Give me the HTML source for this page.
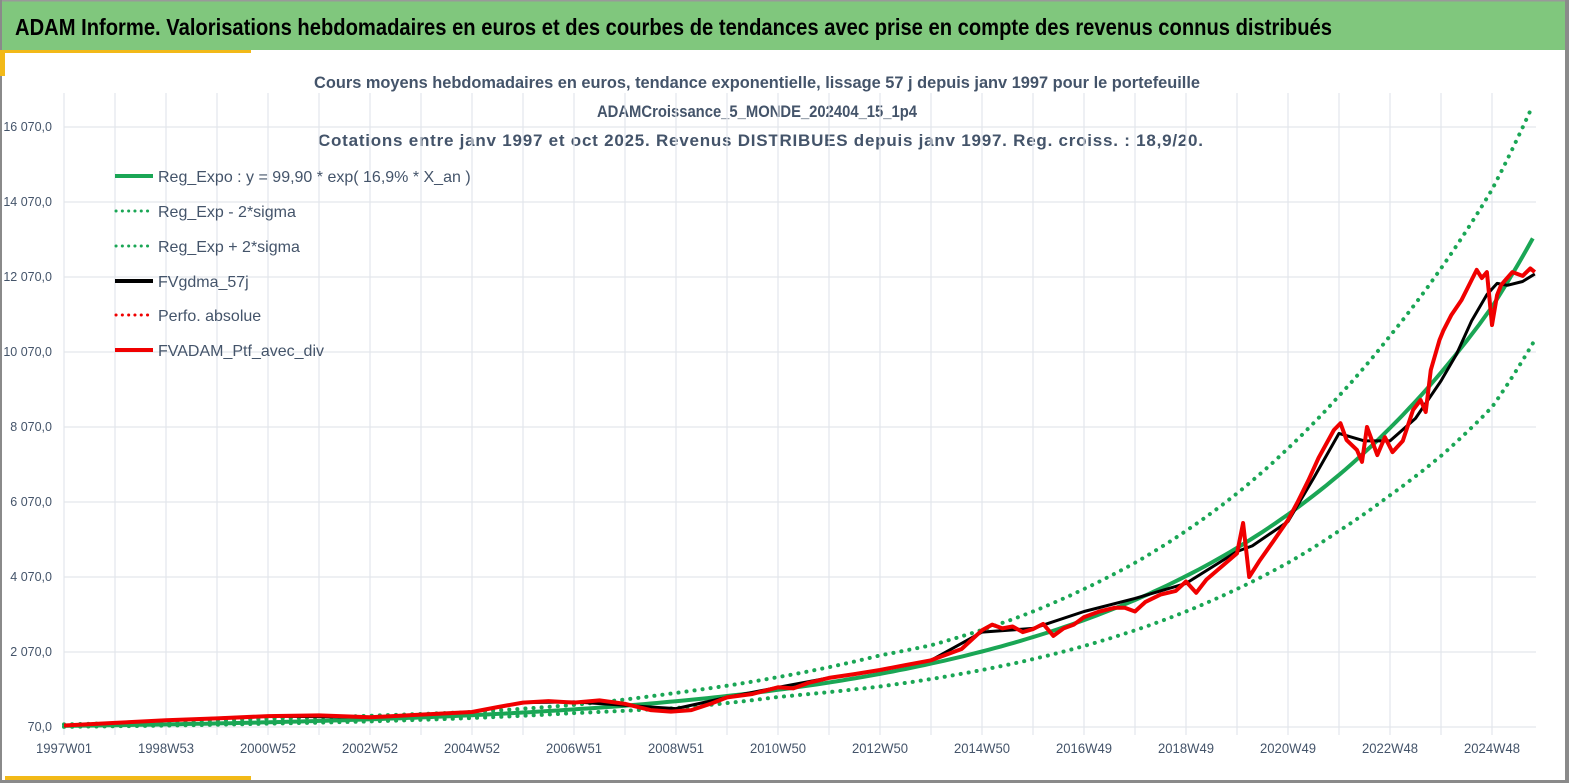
<!DOCTYPE html>
<html><head><meta charset="utf-8"><style>
html,body{margin:0;padding:0;background:#fff;}
svg{display:block;font-family:"Liberation Sans",sans-serif;}
</style></head><body>
<svg id="chart" width="1569" height="783" viewBox="0 0 1569 783">
<rect x="0" y="0" width="1569" height="783" fill="#fff"/>
<rect x="0" y="0" width="1566" height="50" fill="#80c77d"/>
<rect x="0" y="0" width="1569" height="1.5" fill="#999"/>
<rect x="1565" y="0" width="4" height="783" fill="#8a8a8a"/>
<rect x="0" y="780" width="1569" height="3" fill="#8a8a8a"/>
<rect x="0" y="0" width="2" height="783" fill="#8a8a8a"/>
<rect x="0" y="50" width="251" height="3" fill="#f2b918"/>
<rect x="0" y="50" width="5" height="26" fill="#f2b918"/>
<rect x="5" y="776" width="246" height="4" fill="#f2b918"/>
<text x="15" y="35" font-size="23" font-weight="bold" fill="#000" textLength="1317" lengthAdjust="spacingAndGlyphs">ADAM Informe. Valorisations hebdomadaires en euros et des courbes de tendances avec prise en compte des revenus connus distribués</text>
<g fill="#44546a" font-weight="bold" font-size="17">
<text x="314" y="88" textLength="886" lengthAdjust="spacingAndGlyphs">Cours moyens hebdomadaires  en euros, tendance exponentielle, lissage 57 j depuis janv 1997 pour le portefeuille</text>
<text x="597" y="117" textLength="320" lengthAdjust="spacingAndGlyphs">ADAMCroissance_5_MONDE_202404_15_1p4</text>
<text x="318" y="146" textLength="885" lengthAdjust="spacing">Cotations  entre janv 1997 et oct 2025. Revenus DISTRIBUES depuis janv 1997. Reg. croiss. : 18,9/20.</text>
</g>
<g id="grid"></g>
<g id="axes"></g>
<g id="series"></g>
<g id="legend"></g>
</svg>
<script>
// ---- data ----
const yTicks = [70, 2070, 4070, 6070, 8070, 10070, 12070, 14070, 16070];
const yTickLabels = ["70,0","2 070,0","4 070,0","6 070,0","8 070,0","10 070,0","12 070,0","14 070,0","16 070,0"];
const xTickYears = [0, 2, 4, 6, 8, 10, 12, 14, 16, 18, 20, 22, 24, 26, 28];
const xTickLabels = ["1997W01","1998W53","2000W52","2002W52","2004W52","2006W51","2008W51","2010W50","2012W50","2014W50","2016W49","2018W49","2020W49","2022W48","2024W48"];
const regYears = [0,1,2,3,4,5,6,7,8,9,10,11,12,13,14,15,16,17,18,19,20,21,22,23,24,25,26,27,28,28.8];
const regValues = [100,118,140,165,196,232,275,325,385,456,540,639,757,896,1061,1256,1487,1760,2084,2467,2921,3458,4094,4847,5738,6793,8043,9522,11273,13100];
const upperYears = [0,2,4,6,8,10,12,14,16,17,18,19,20,21,22,23,24,25,26,27,28,28.8];
const upperValues = [140,210,290,370,470,660,980,1400,1980,2250,2660,3150,3750,4450,5300,6300,7500,8900,10500,12300,14400,16650];
const lowerYears = [0,2,4,6,8,10,12,14,16,17,18,19,20,21,22,23,24,25,26,27,28,28.8];
const lowerValues = [75,110,160,220,310,440,575,870,1150,1350,1590,1880,2230,2650,3150,3750,4450,5300,6250,7300,8600,10300];
const ptfYears = [0,1,2,3,4,5,6,7,8,8.5,9,9.5,10,10.5,11,11.5,11.9,12.3,12.7,13,13.5,14,14.3,14.6,15,15.5,16,16.5,17,17.3,17.6,17.8,18,18.2,18.4,18.6,18.8,19,19.2,19.4,19.6,19.8,20,20.3,20.6,20.8,21,21.2,21.5,21.8,22,22.2,22.4,22.7,23,23.12,23.24,23.45,23.7,24,24.2,24.4,24.6,24.9,25.03,25.15,25.35,25.45,25.55,25.75,25.9,26.05,26.25,26.45,26.6,26.7,26.8,26.97,27.05,27.2,27.4,27.6,27.7,27.8,27.9,28.0,28.1,28.18,28.27,28.4,28.6,28.75,28.84];
const ptfValues = [110,180,250,300,360,380,330,400,470,600,720,760,720,780,690,520,480,520,700,860,950,1130,1100,1250,1380,1480,1590,1720,1850,2000,2150,2400,2650,2800,2700,2750,2600,2680,2820,2500,2700,2800,3000,3150,3250,3250,3150,3400,3600,3700,3950,3650,4000,4350,4700,5510,4070,4520,5000,5590,6100,6650,7250,7990,8170,7720,7460,7140,8070,7320,7800,7400,7700,8520,8790,8470,9590,10390,10650,11050,11450,11990,12260,12040,12200,10790,11590,11860,12000,12200,12100,12300,12200];
const maYears = [0,2,4,6,8,9,10,11,12,13,14,15,16,17,18,19,20,21,22,23,23.3,24,24.5,25,25.5,26,26.5,27,27.3,27.6,27.9,28.1,28.3,28.6,28.84];
const maValues = [110,250,360,330,470,720,740,650,560,860,1130,1380,1590,1850,2600,2700,3150,3500,3900,4750,4900,5550,6700,7900,7700,7700,8300,9300,10000,10900,11600,11900,11850,11950,12150];

// ---- axes ----
const X0 = 64, PX_PER_YEAR = 51;
const Y0 = 727, PX_PER_UNIT = 600/16000;
function xs(t){ return X0 + t*PX_PER_YEAR; }
function ys(v){ return Y0 - (v-70)*PX_PER_UNIT; }
const NS = "http://www.w3.org/2000/svg";
function mk(tag, parent, attrs){ const e=document.createElementNS(NS,tag); for(const k in attrs) e.setAttribute(k,attrs[k]); parent.appendChild(e); return e; }

const grid = document.getElementById('grid');
const axes = document.getElementById('axes');
for (let i=0;i<yTicks.length;i++){
  const y = ys(yTicks[i]);
  const l = mk('line', grid, {x1:64, x2:1536, y1:y, y2:y, stroke:'#e3e6ec', 'stroke-width':1.3});
  
  
  const t = mk('text', axes, {x:52, y:y+4, 'text-anchor':'end', 'font-size':12.5, fill:'#44546a'});
  t.textContent = yTickLabels[i];
  
  
}
for (let k=0;k<=29;k++){
  const x = xs(k);
  if (x>1537) break;
  const l = mk('line', grid, {x1:x, x2:x, y1:93, y2:735, stroke:'#e3e6ec', 'stroke-width':1.2});
  
  
}
for (let i=0;i<xTickYears.length;i++){
  const t = mk('text', axes, {x:xs(xTickYears[i]), y:753, 'text-anchor':'middle', 'font-size':14, fill:'#44546a', textLength:56, lengthAdjust:'spacingAndGlyphs'});
  t.textContent = xTickLabels[i];
  
  
}

// ---- series ----
const series = document.getElementById('series');
function path(xsArr, vals){ return xsArr.map((t,i)=>(i?'L':'M')+xs(t).toFixed(1)+','+ys(vals[i]).toFixed(1)).join(''); }
function smoothPath(xsArr, vals){
  let d='';
  for (let i=0;i<xsArr.length;i++){
    d += (i?'L':'M')+xs(xsArr[i]).toFixed(1)+','+ys(vals[i]).toFixed(1);
    if (i<xsArr.length-1){
      const a=xsArr[i], b=xsArr[i+1], va=vals[i], vb=vals[i+1];
      for (let s=1;s<8;s++){ const f=s/8; const v=Math.exp(Math.log(va)*(1-f)+Math.log(vb)*f); d+='L'+xs(a+(b-a)*f).toFixed(1)+','+ys(v).toFixed(1); }
    }
  }
  return d;
}
const up = mk('path', series, {d:smoothPath(upperYears, upperValues), fill:'none', stroke:'#1aa655', 'stroke-width':4, 'stroke-dasharray':'0.1 8', 'stroke-linecap':'round'});


const lo = mk('path', series, {d:smoothPath(lowerYears, lowerValues), fill:'none', stroke:'#1aa655', 'stroke-width':4, 'stroke-dasharray':'0.1 8', 'stroke-linecap':'round'});


const reg = mk('path', series, {d:smoothPath(regYears, regValues), fill:'none', stroke:'#1aa655', 'stroke-width':4});


const ma = mk('path', series, {d:path(maYears, maValues), fill:'none', stroke:'#000', 'stroke-width':3, 'stroke-linejoin':'round'});


const ptf = mk('path', series, {d:path(ptfYears, ptfValues), fill:'none', stroke:'#f00000', 'stroke-width':4, 'stroke-linejoin':'round'});



// ---- legend ----
const legend = document.getElementById('legend');
const legLabels = ["Reg_Expo : y = 99,90 * exp( 16,9% *  X_an )","Reg_Exp - 2*sigma","Reg_Exp + 2*sigma","FVgdma_57j","Perfo. absolue","FVADAM_Ptf_avec_div"];
const legColors = ['#1aa655','#1aa655','#1aa655','#000','#f00000','#f00000'];
const legDotted = [false,true,true,false,true,false];
const legY = [176,211,246,281,315,350];
for (let i=0;i<legLabels.length;i++){
  const g = mk('g', legend, {});
  
  
  const a = legDotted[i] ? {x1:116,x2:153,y1:legY[i],y2:legY[i],stroke:legColors[i],'stroke-width':3,'stroke-dasharray':'0.1 6.2','stroke-linecap':'round'}
                         : {x1:115,x2:153,y1:legY[i],y2:legY[i],stroke:legColors[i],'stroke-width':4};
  const l = mk('line', g, a);
  
  
  const t = mk('text', g, {x:158, y:legY[i]+6, 'font-size':16, fill:'#44546a'});
  t.textContent = legLabels[i];
  
  
}
</script>
</body></html>
